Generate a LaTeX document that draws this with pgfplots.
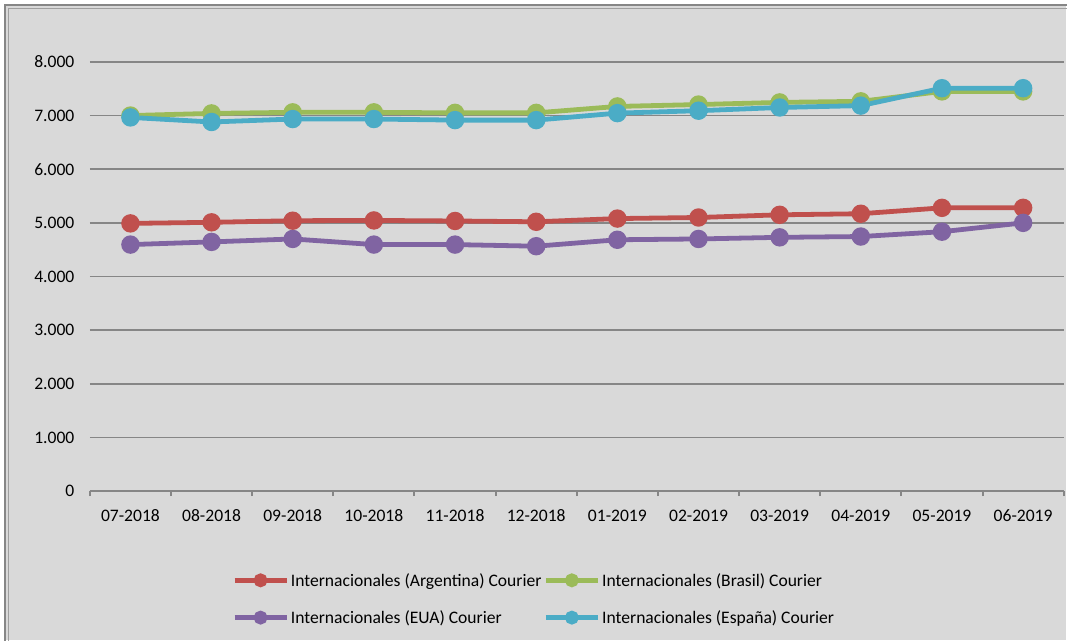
\documentclass[border=0pt]{standalone}
\usepackage{pgfplots}
\pgfplotsset{compat=1.18}
\usepackage{fontspec}
\setmainfont{Carlito}
\definecolor{bg}{HTML}{D9D9D9}
\definecolor{gridc}{HTML}{868686}
\definecolor{cA}{HTML}{C0504D}
\definecolor{cB}{HTML}{9BBB59}
\definecolor{cE}{HTML}{8064A2}
\definecolor{cS}{HTML}{4BACC6}
\begin{document}
\begin{tikzpicture}
\fill[white] (-90bp,-149bp) rectangle (978bp,492bp);
\fill[bg] (-86bp,-149bp) rectangle (978bp,488bp);
\draw[gridc, line width=1.8bp] (-85bp,-150bp) -- (-85bp,487bp) -- (979bp,487bp);
\draw[gridc!70!bg, line width=1.4bp] (-81.5bp,-150bp) -- (-81.5bp,483.5bp) -- (979bp,483.5bp);
\useasboundingbox (-90bp,-149bp) rectangle (978bp,492bp);
\begin{axis}[
  at={(0bp,0bp)}, anchor=south west,
  scale only axis, width=975.6bp, height=430bp,
  xmin=-0.5, xmax=11.5, ymin=0, ymax=8000,
  axis lines*=left,
  y axis line style={draw=none},
  x axis line style={gridc, line width=2bp},
  ytick={0,1000,...,8000},
  xtick={0,...,11},
  xticklabels={07-2018,08-2018,09-2018,10-2018,11-2018,12-2018,01-2019,02-2019,03-2019,04-2019,05-2019,06-2019},
  minor xtick={-0.5,0.5,...,11.5},
  major tick length=0pt,
  minor tick length=5bp,
  tick align=outside,
  minor tick style={gridc, line width=2bp},
  ymajorgrids,
  grid style={gridc, line width=1.6bp},
  /pgf/number format/.cd, 1000 sep={.}, assume math mode=true,
  /pgfplots/.cd,
  tick label style={font=\fontsize{17.6bp}{20bp}\selectfont, text=black},
  yticklabel style={xshift=-12bp},
  xticklabel style={yshift=-15bp},
  every axis plot/.append style={line width=4.8bp, mark=*, mark size=6.8bp},
  legend columns=2,
  legend cell align=left,
  legend image code/.code={\draw[mark repeat=2,mark phase=2,#1,mark size=4.5bp] plot coordinates {(0bp,0bp)(26bp,0bp)(52bp,0bp)};},
  legend style={draw=none, fill=none, inner sep=0pt,
    font=\fontsize{17.6bp}{20bp}\selectfont,
    at={(axis description cs:0.146,-0.186)}, anchor=north west,
    row sep=19bp,
    /tikz/every even column/.append style={column sep=0bp}},
]
\addplot[cA] coordinates {(0,4990)(1,5010)(2,5040)(3,5045)(4,5035)(5,5020)(6,5080)(7,5100)(8,5150)(9,5170)(10,5280)(11,5280)};
\addlegendentry{Internacionales (Argentina) Courier}
\addplot[cB] coordinates {(0,7000)(1,7040)(2,7060)(3,7060)(4,7050)(5,7050)(6,7170)(7,7205)(8,7245)(9,7265)(10,7450)(11,7450)};
\addlegendentry{Internacionales (Brasil) Courier}
\addplot[cE] coordinates {(0,4595)(1,4645)(2,4700)(3,4595)(4,4595)(5,4565)(6,4685)(7,4700)(8,4730)(9,4745)(10,4835)(11,5000)};
\addlegendentry{Internacionales (EUA) Courier}
\addplot[cS] coordinates {(0,6965)(1,6880)(2,6935)(3,6935)(4,6915)(5,6915)(6,7045)(7,7090)(8,7150)(9,7185)(10,7510)(11,7510)};
\addlegendentry{Internacionales (España) Courier}
\end{axis}
\end{tikzpicture}
\end{document}
